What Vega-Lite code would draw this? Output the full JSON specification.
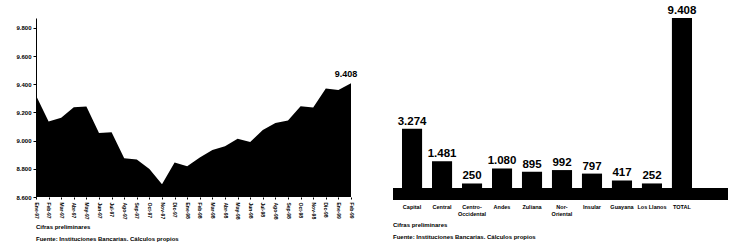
{
  "$schema": "https://vega.github.io/schema/vega-lite/v6.json",
  "padding": {"left": 15, "top": 5, "right": 0, "bottom": 0},
  "config": {
    "view": {"stroke": null},
    "font": "Liberation Sans",
    "locale": {"number": {"decimal": ",", "thousands": ".", "grouping": [3], "currency": ["$", ""]}},
    "concat": {"spacing": 29}
  },
  "datasets": {
    "serie": [
      {"mes": "Ene-97", "valor": 9321}, {"mes": "Feb-97", "valor": 9136}, {"mes": "Mar-97", "valor": 9162},
      {"mes": "Abr-97", "valor": 9238}, {"mes": "May-97", "valor": 9243}, {"mes": "Jun-97", "valor": 9055},
      {"mes": "Jul-97", "valor": 9060}, {"mes": "Ago-97", "valor": 8876}, {"mes": "Sep-97", "valor": 8867},
      {"mes": "Oct-97", "valor": 8798}, {"mes": "Nov-97", "valor": 8691}, {"mes": "Dic-97", "valor": 8845},
      {"mes": "Ene-98", "valor": 8819}, {"mes": "Feb-98", "valor": 8881}, {"mes": "Mar-98", "valor": 8934},
      {"mes": "Abr-98", "valor": 8960}, {"mes": "May-98", "valor": 9014}, {"mes": "Jun-98", "valor": 8991},
      {"mes": "Jul-98", "valor": 9076}, {"mes": "Ago-98", "valor": 9126}, {"mes": "Sep-98", "valor": 9143},
      {"mes": "Oct-98", "valor": 9245}, {"mes": "Nov-98", "valor": 9236}, {"mes": "Dic-98", "valor": 9371},
      {"mes": "Ene-99", "valor": 9359}, {"mes": "Feb-99", "valor": 9408}
    ],
    "regiones": [
      {"region": "Capital", "valor": 3274}, {"region": "Central", "valor": 1481},
      {"region": "Centro-Occidental", "valor": 250}, {"region": "Andes", "valor": 1080},
      {"region": "Zuliana", "valor": 895}, {"region": "Nor-Oriental", "valor": 992},
      {"region": "Insular", "valor": 797}, {"region": "Guayana", "valor": 417},
      {"region": "Los Llanos", "valor": 252}, {"region": "TOTAL", "valor": 9408}
    ]
  },
  "hconcat": [
    {
      "width": 315,
      "height": 179,
      "data": {"name": "serie"},
      "title": {"text": ["Cifras preliminares", "Fuente: Instituciones Bancarias. Cálculos propios"], "orient": "bottom", "anchor": "start", "frame": "group", "fontSize": 6, "fontWeight": "bold", "lineHeight": 12, "offset": 5, "color": "#000"},
      "encoding": {
        "x": {"field": "mes", "type": "ordinal", "sort": null, "scale": {"type": "point", "padding": 0},
              "axis": {"title": null, "labelAngle": 90, "labelFontSize": 5, "labelFontWeight": "bold", "labelColor": "#000", "domain": false, "ticks": true, "tickSize": 2, "tickColor": "#000", "labelPadding": 3}},
        "y": {"field": "valor", "type": "quantitative", "scale": {"domain": [8600, 9871], "nice": false, "zero": false},
              "axis": {"title": null, "values": [8600, 8800, 9000, 9200, 9400, 9600, 9800], "labelExpr": "replace(format(datum.value/1000, ',.3f'), ',', '.')", "labelFontSize": 6, "labelFontWeight": "bold", "grid": false, "tickSize": 3, "domainColor": "#000", "tickColor": "#000", "labelColor": "#000"}}
      },
      "layer": [
        {"mark": {"type": "area", "color": "#000", "clip": true}},
        {"transform": [{"filter": "datum.mes == 'Feb-99'"}],
         "mark": {"type": "text", "dy": -9, "dx": -5, "fontSize": 9, "fontWeight": "bold", "color": "#000"},
         "encoding": {"text": {"field": "valor", "type": "quantitative", "format": ",d"}}}
      ]
    },
    {
      "width": 335,
      "height": 182,
      "data": {"name": "regiones"},
      "title": {"text": ["Cifras preliminares", "Fuente: Instituciones Bancarias. Cálculos propios"], "orient": "bottom", "anchor": "start", "frame": "group", "fontSize": 6, "fontWeight": "bold", "lineHeight": 12, "offset": 5, "color": "#000"},
      "encoding": {
        "x": {"field": "region", "type": "nominal", "sort": null, "scale": {"paddingInner": 0.33, "paddingOuter": 0.75, "align": 0.2},
              "axis": {"title": null, "labelAngle": 0, "labelFontSize": 5.5, "labelFontWeight": "bold", "labelColor": "#000", "domain": false, "ticks": false, "labelPadding": 4,
                       "labelExpr": "datum.label == 'Centro-Occidental' ? ['Centro-', 'Occidental'] : datum.label == 'Nor-Oriental' ? ['Nor-', 'Oriental'] : datum.label"}},
        "y": {"field": "valor", "type": "quantitative", "scale": {"domain": [-664, 9408], "nice": false}, "axis": null}
      },
      "layer": [
        {"mark": {"type": "rule", "color": "#000", "strokeWidth": 12}, "encoding": {"y": {"datum": -332}, "x": null}},
        {"mark": {"type": "bar", "color": "#000"}, "encoding": {"y2": {"datum": 0}}},
        {"mark": {"type": "text", "dy": -7, "fontSize": 11.5, "fontWeight": "bold", "color": "#000"},
         "encoding": {"text": {"field": "valor", "type": "quantitative", "format": ",d"}}}
      ]
    }
  ]
}
